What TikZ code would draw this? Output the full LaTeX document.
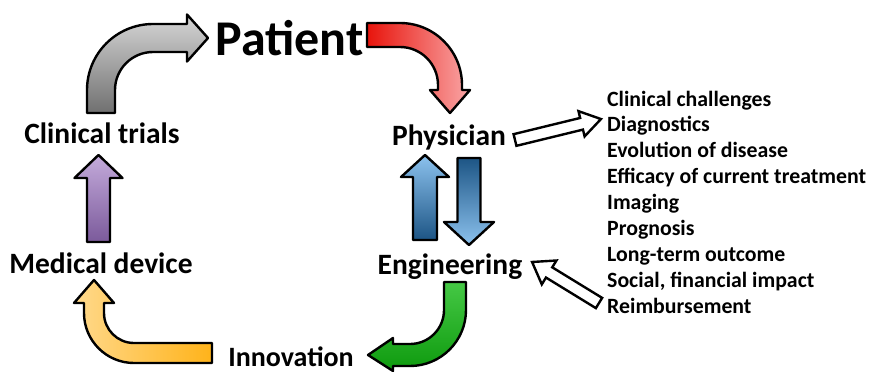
\documentclass[tikz,border=0pt]{standalone}
\usepackage{fontspec}
\setmainfont{Carlito}
\definecolor{grayTop}{HTML}{D6D6D6}
\definecolor{grayBot}{HTML}{707070}
\definecolor{redL}{HTML}{E8140C}
\definecolor{redR}{HTML}{F9A6A6}
\definecolor{blueLight}{HTML}{8CC2EE}
\definecolor{blueDark}{HTML}{1D5585}
\definecolor{greenTop}{HTML}{45C845}
\definecolor{greenBot}{HTML}{0E9A0E}
\definecolor{yellowL}{HTML}{FFD98C}
\definecolor{yellowR}{HTML}{FFB31A}
\definecolor{purpleTop}{HTML}{C4ABDB}
\definecolor{purpleBot}{HTML}{7B5A9B}
\begin{document}
\begin{tikzpicture}[x=1pt,y=1pt,
  blockarrow/.style={draw=black,line width=2.4pt,line join=round},
  hollowarrow/.style={draw=black,fill=white,line width=2.4pt,line join=miter},
  bigword/.style={inner sep=0pt,anchor=base,font=\bfseries\fontsize{29.5}{31}\selectfont},
  listword/.style={inner sep=0pt,anchor=base west,font=\bfseries\fontsize{21.8}{24}\selectfont}]
\useasboundingbox (0,0) rectangle (871,-372);

% stage labels
\node[bigword,font=\bfseries\fontsize{50}{52}\selectfont] (patient) at (289.5,-55) {Patient};
\node[bigword] (trials) at (102,-143) {Clinical trials};
\node[bigword] (device) at (101,-273) {Medical device};
\node[bigword] (physician) at (449,-145) {Physician};
\node[bigword] (engineering) at (450,-274) {Engineering};
\node[bigword,font=\bfseries\fontsize{28}{29}\selectfont,text depth=0pt] (innovation) at (291,-366) {Innovation};

% list of clinical questions
\foreach \t [count=\i] in {Clinical challenges, Diagnostics, Evolution of disease,
  Efficacy of current treatment, Imaging, Prognosis, Long-term outcome,
  {Social, financial impact}, Reimbursement}
  \node[listword] (item\i) at (607,{-106-25.9*(\i-1)}) {\t};

% clinical trials -> patient (grey, bent)
\shadedraw[blockarrow,top color=grayTop,bottom color=grayBot]
  (87,-113) -- (87,-90) arc[start angle=180,end angle=90,radius=66]
  -- (187,-24) -- (187,-14.5) -- (208,-38) -- (187,-61.5) -- (187,-52)
  -- (153,-52) arc[start angle=90,end angle=180,radius=38] -- (115,-113) -- cycle;

% patient -> physician (red, bent)
\shadedraw[blockarrow,left color=redL,right color=redR]
  (367,-23) -- (400,-23) arc[start angle=90,end angle=0,radius=62]
  -- (462,-90) -- (470,-90) -- (450,-113) -- (430,-90) -- (438,-90)
  -- (438,-85) arc[start angle=0,end angle=90,radius=38] -- (367,-47) -- cycle;

% physician <-> engineering (blue pair)
\shadedraw[blockarrow,top color=blueLight,bottom color=blueDark]
  (413,-240) -- (413,-177) -- (401,-177) -- (425,-155) -- (449,-177)
  -- (437,-177) -- (437,-240) -- cycle;
\shadedraw[blockarrow,top color=blueDark,bottom color=blueLight]
  (457.5,-158) -- (457.5,-222) -- (444,-222) -- (469,-245) -- (494,-222)
  -- (480.5,-222) -- (480.5,-158) -- cycle;

% engineering -> innovation (green, bent)
\shadedraw[blockarrow,top color=greenTop,bottom color=greenBot]
  (444,-282) -- (444,-310) arc[start angle=0,end angle=-90,radius=34]
  -- (393,-344) -- (393,-338) -- (368,-355) -- (393,-371) -- (393,-366)
  -- (410,-366) arc[start angle=-90,end angle=0,radius=56] -- (466,-282) -- cycle;

% innovation -> medical device (yellow, bent)
\shadedraw[blockarrow,left color=yellowL,right color=yellowR]
  (212,-343) -- (134,-343) arc[start angle=-90,end angle=-180,radius=30]
  -- (104,-303) -- (114,-303) -- (94,-280) -- (74,-303) -- (84,-303)
  -- (84,-313) arc[start angle=180,end angle=270,radius=50] -- (212,-363) -- cycle;

% medical device -> clinical trials (purple)
\shadedraw[blockarrow,top color=purpleTop,bottom color=purpleBot]
  (87,-242) -- (87,-178) -- (74.5,-178) -- (98.5,-155) -- (122.5,-178)
  -- (110,-178) -- (110,-242) -- cycle;

% hollow arrows to and from the list
\draw[hollowarrow,shift={(515,-140)},rotate=13.7]
  (0,-6) -- (68.5,-6) -- (68.5,-13) -- (88.5,0) -- (68.5,13) -- (68.5,6) -- (0,6) -- cycle;
\draw[hollowarrow,shift={(599,-303)},rotate=148.5]
  (0,-6) -- (58.5,-6) -- (58.5,-14) -- (78.5,0) -- (58.5,14) -- (58.5,6) -- (0,6) -- cycle;
\end{tikzpicture}
\end{document}
